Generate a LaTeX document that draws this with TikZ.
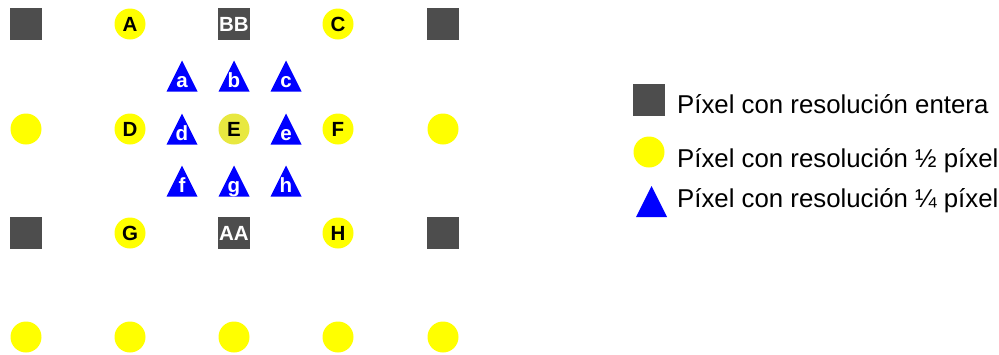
\documentclass[tikz,border=0pt]{standalone}
\usepackage{fontspec}
\setmainfont{Liberation Sans}
\usetikzlibrary{positioning}

\definecolor{intgray}{HTML}{4D4D4D}
\definecolor{halfyellow}{HTML}{FFFF00}
\definecolor{ctryellow}{HTML}{E8E840}
\definecolor{qtrblue}{HTML}{0000FF}

% quarter-pel sample: triangle with its name and label
\newcommand{\qtrpx}[4]{%
  \fill[qtrblue] (#2-15.5,#3+15.5) -- (#2,#3-15.5) -- (#2+15.5,#3+15.5) -- cycle;
  \node[qtrlbl] (#1) at (#2,#3+11) {#4};}

\begin{document}
\begin{tikzpicture}[
  x=1pt, y=-1pt,
  font=\fontsize{20.5}{23}\selectfont\bfseries,
  intpx/.style={fill=intgray, text=white, minimum size=32pt, inner sep=0pt},
  halfpx/.style={circle, fill=halfyellow, minimum size=31pt, inner sep=0pt},
  ctrpx/.style={halfpx, fill=ctryellow},
  qtrlbl/.style={text=white, inner sep=0pt, anchor=base},
  legtext/.style={anchor=base west, inner sep=0pt, font=\fontsize{25.8}{28}\selectfont}
]
\useasboundingbox (0,0) rectangle (999,354);

% row 1
\node[intpx] (p11) at (26,24) {};
\node[halfpx] (hA) at (130,24) {A};
\node[intpx] (pBB) at (234,24) {BB};
\node[halfpx] (hC) at (338,24) {C};
\node[intpx] (p15) at (443,24) {};

% quarter samples, upper row
\qtrpx{qa}{182}{76}{a}
\qtrpx{qb}{234}{76}{b}
\qtrpx{qc}{286}{76}{c}

% row 2
\node[halfpx] (h21) at (26,129) {};
\node[halfpx] (hD) at (130,129) {D};
\qtrpx{qd}{182}{129}{d}
\node[ctrpx] (hE) at (234,129) {E};
\qtrpx{qe}{286}{129}{e}
\node[halfpx] (hF) at (338,129) {F};
\node[halfpx] (h25) at (443,129) {};

% quarter samples, lower row
\qtrpx{qf}{182}{181}{f}
\qtrpx{qg}{234}{181}{g}
\qtrpx{qh}{286}{181}{h}

% row 3
\node[intpx] (p31) at (26,233) {};
\node[halfpx] (hG) at (130,233) {G};
\node[intpx] (pAA) at (234,233) {AA};
\node[halfpx] (hH) at (338,233) {H};
\node[intpx] (p35) at (443,233) {};

% row 4
\node[halfpx] (h41) at (26,337) {};
\node[halfpx] (h42) at (130,337) {};
\node[halfpx] (h43) at (234,337) {};
\node[halfpx] (h44) at (338,337) {};
\node[halfpx] (h45) at (443,337) {};

% legend
\node[intpx] (keyint) at (649,100) {};
\node[halfpx] (keyhalf) at (649,152) {};
\qtrpx{keyqtr}{651.5}{201.5}{}
\node[legtext] (txtint) at (677,113) {Píxel con resolución entera};
\node[legtext] (txthalf) at (677,167) {Píxel con resolución ½ píxel};
\node[legtext] (txtqtr) at (677,207) {Píxel con resolución ¼ píxel};
\end{tikzpicture}
\end{document}
